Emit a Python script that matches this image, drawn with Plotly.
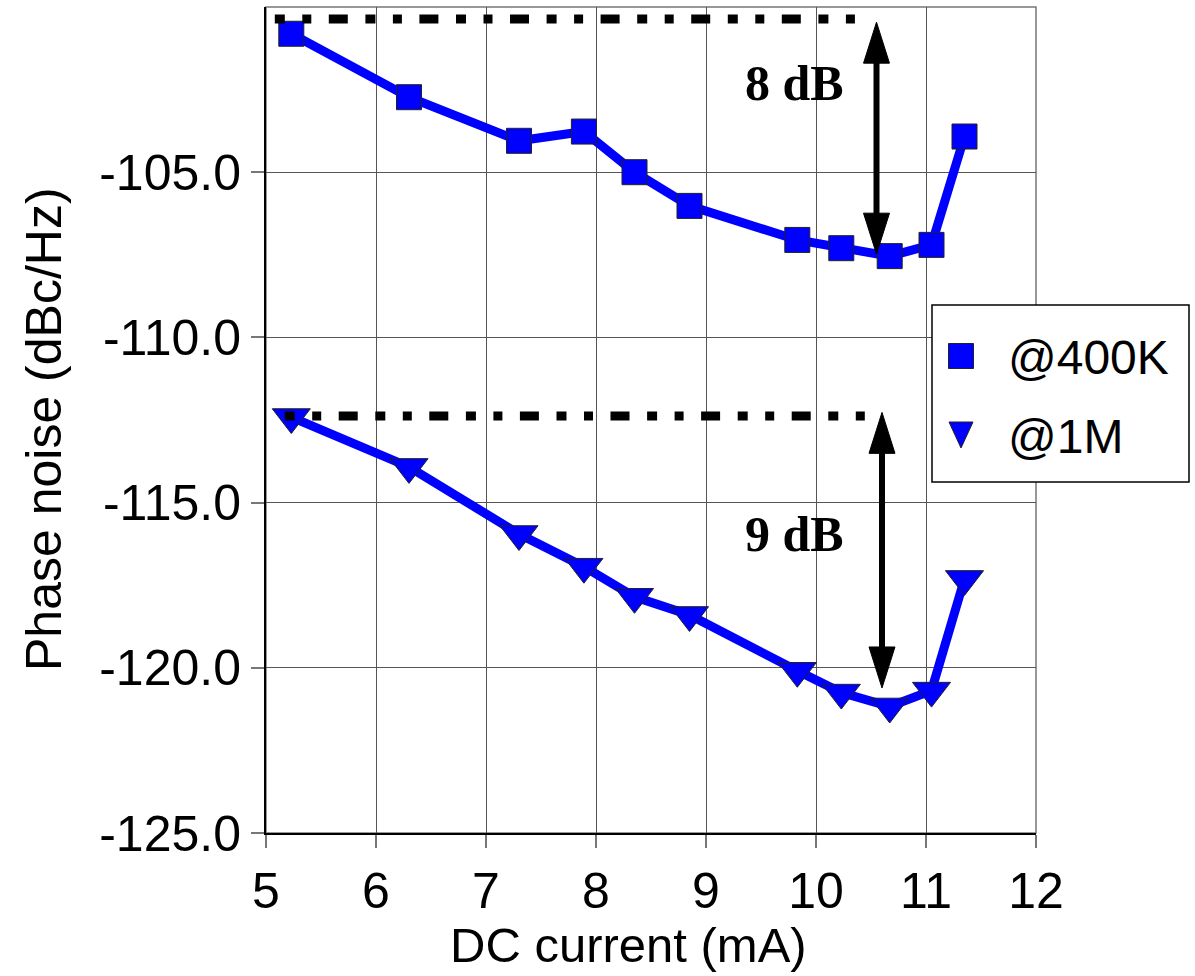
import plotly.graph_objects as go

# ---- data ----
dc_current = [5.23, 6.30, 7.30, 7.89, 8.35, 8.85, 9.83, 10.23, 10.67, 11.05, 11.35]
pn_400k = [-100.81, -102.73, -104.05, -103.77, -105.0, -106.02, -107.05, -107.30, -107.54, -107.20, -103.92]
pn_1m = [-112.41, -113.92, -115.95, -116.94, -117.85, -118.40, -120.09, -120.75, -121.17, -120.69, -117.31]
series_names = ["@400K", "@1M"]

# reference (dotted) levels: [y, x_start, x_end]
ref_lines = [[-100.36, 5.08, 10.43], [-112.38, 5.17, 10.51]]
# double arrows: [x, y_top, y_bottom]
arrows = [[10.55, -100.46, -107.48], [10.60, -112.27, -120.61]]
arrow_labels = ["8 dB", "9 dB"]
label_pos = [[9.80, -102.3], [9.80, -115.95]]

x_ticks = [5, 6, 7, 8, 9, 10, 11, 12]
y_ticks = [-125, -120, -115, -110, -105]
y_ticktext = ["-125.0", "-120.0", "-115.0", "-110.0", "-105.0"]

BLUE = "#0000FF"
EDGE = "#222222"
FONT = "Liberation Sans, Arial, sans-serif"

# plot-area pixel geometry (for paper-coordinate placement of legend / titles)
L, R, T, B = 266, 1036, 7, 833
def px(xp):
    return (xp - L) / (R - L)
def py(yp):
    return (B - yp) / (B - T)

fig = go.Figure()
fig.add_trace(go.Scatter(x=dc_current, y=pn_400k, mode="lines+markers", name=series_names[0],
                         showlegend=False,
                         line=dict(color=BLUE, width=9),
                         marker=dict(symbol="square", size=25, color=BLUE,
                                     line=dict(color=EDGE, width=1))))
fig.add_trace(go.Scatter(x=dc_current, y=pn_1m, mode="lines+markers", name=series_names[1],
                         showlegend=False,
                         line=dict(color=BLUE, width=9),
                         marker=dict(symbol="triangle-down", size=33, color=BLUE,
                                     line=dict(color=EDGE, width=1))))

shapes = []
for yv, x0, x1 in ref_lines:
    shapes.append(dict(type="line", xref="x", yref="y", x0=x0, x1=x1, y0=yv, y1=yv,
                       line=dict(color="black", width=9,
                                 dash="10px,17.5px,9px,17.5px,19px,17.6px")))

head_len = 1.24   # y units
head_hw = 0.118   # x units
for xa, yt, yb in arrows:
    shapes.append(dict(type="line", xref="x", yref="y", x0=xa, x1=xa,
                       y0=yt - head_len * 0.9, y1=yb + head_len * 0.9,
                       line=dict(color="black", width=6)))
    shapes.append(dict(type="path", xref="x", yref="y",
                       path=f"M {xa} {yt} L {xa - head_hw} {yt - head_len} L {xa + head_hw} {yt - head_len} Z",
                       fillcolor="black", line=dict(color="black", width=1)))
    shapes.append(dict(type="path", xref="x", yref="y",
                       path=f"M {xa} {yb} L {xa - head_hw} {yb + head_len} L {xa + head_hw} {yb + head_len} Z",
                       fillcolor="black", line=dict(color="black", width=1)))

# plot border (top/right gray)
shapes.append(dict(type="rect", xref="paper", yref="paper", x0=0, x1=1, y0=0, y1=1,
                   line=dict(color="#777777", width=1.5), layer="below"))

# ---- legend drawn manually (box, symbols, labels) ----
shapes.append(dict(type="rect", xref="paper", yref="paper",
                   x0=px(932), x1=px(1189), y0=py(482), y1=py(305),
                   line=dict(color="black", width=1.5), fillcolor="white", layer="above"))
shapes.append(dict(type="rect", xref="paper", yref="paper",
                   x0=px(948.5), x1=px(973.5), y0=py(368.5), y1=py(343.5),
                   line=dict(color=EDGE, width=1), fillcolor=BLUE, layer="above"))
shapes.append(dict(type="path", xref="paper", yref="paper",
                   path=(f"M {px(949)} {py(422)} L {px(973)} {py(422)} "
                         f"L {px(961)} {py(448)} Z"),
                   line=dict(color=EDGE, width=1), fillcolor=BLUE, layer="above"))

annotations = []
for txt, (xp, yp) in zip(arrow_labels, label_pos):
    annotations.append(dict(x=xp, y=yp, xref="x", yref="y", text=f"<b>{txt}</b>", showarrow=False,
                            font=dict(family="Liberation Serif, Times New Roman, serif", size=50,
                                      color="black")))
for txt, ypix in zip(series_names, [357, 436]):
    annotations.append(dict(x=px(1006), y=py(ypix), xref="paper", yref="paper", text=txt,
                            showarrow=False, xanchor="left", yanchor="middle",
                            font=dict(family=FONT, size=48, color="black")))
# axis titles
annotations.append(dict(x=px(628), y=py(945), xref="paper", yref="paper", text="DC current (mA)",
                        showarrow=False, xanchor="center", yanchor="middle",
                        font=dict(family=FONT, size=49, color="black")))
annotations.append(dict(x=px(44), y=py(429), xref="paper", yref="paper", text="Phase noise (dBc/Hz)",
                        showarrow=False, xanchor="center", yanchor="middle", textangle=-90,
                        font=dict(family=FONT, size=50, color="black")))

fig.update_layout(
    width=1195, height=976,
    margin=dict(l=L, r=1195 - R, t=T, b=976 - B),
    paper_bgcolor="white", plot_bgcolor="white",
    shapes=shapes, annotations=annotations, showlegend=False,
    font=dict(family=FONT, size=50, color="black"),
    xaxis=dict(range=[5, 12], tickvals=x_ticks, showgrid=True, gridcolor="#555555", gridwidth=1,
               showline=True, linecolor="black", linewidth=2, zeroline=False,
               ticks="outside", ticklen=13, tickcolor="#777777", tickwidth=1.5,
               tickfont=dict(family=FONT, size=50)),
    yaxis=dict(range=[-125, -100], tickvals=y_ticks, ticktext=y_ticktext, showgrid=True,
               gridcolor="#555555", gridwidth=1,
               showline=True, linecolor="black", linewidth=2, zeroline=False,
               ticks="outside", ticklen=13, tickcolor="#777777", tickwidth=1.5,
               tickfont=dict(family=FONT, size=50)),
)

fig.write_html("out.html")
